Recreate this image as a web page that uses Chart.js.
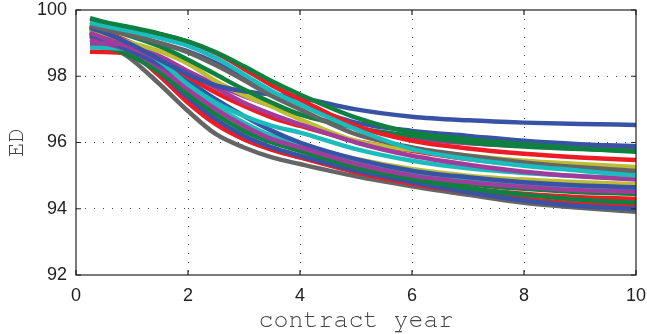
<!DOCTYPE html>
<html>
<head>
<meta charset="utf-8">
<script src="https://cdn.jsdelivr.net/npm/chart.js@4.4.0/dist/chart.umd.min.js"></script>
<style>
  html, body { margin: 0; padding: 0; background: #fff; }
  #wrap { width: 647px; height: 334px; }
</style>
</head>
<body>
<div id="wrap"><canvas id="edChart" width="647" height="334"></canvas></div>
<script>
// contract year sample points
const years = [0.25, 0.5, 1, 1.5, 2, 2.5, 3, 3.5, 4, 5, 6, 7, 8, 9, 10];
const xTicks = [0, 2, 4, 6, 8, 10];
const yTicks = [92, 94, 96, 98, 100];

// ED values, one array per curve
const greenTop   = [99.75, 99.64, 99.47, 99.28, 99.05, 98.72, 98.30, 97.85, 97.45, 96.75, 96.30, 96.10, 95.95, 95.82, 95.72];
const cyanTop    = [99.62, 99.52, 99.35, 99.15, 98.92, 98.55, 98.05, 97.55, 97.15, 96.40, 95.80, 95.50, 95.30, 95.15, 95.00];
const grayTop    = [99.52, 99.42, 99.22, 99.00, 98.72, 98.33, 97.88, 97.40, 97.00, 96.25, 95.85, 95.60, 95.40, 95.25, 95.14];
const redTop     = [99.66, 99.58, 99.44, 99.27, 99.04, 98.70, 98.22, 97.72, 97.30, 96.50, 96.05, 95.82, 95.66, 95.55, 95.47];
const blueTop    = [99.45, 99.32, 98.95, 98.50, 98.05, 97.72, 97.55, 97.45, 97.35, 97.00, 96.78, 96.67, 96.60, 96.56, 96.53];
const blueHigh   = [99.55, 99.45, 99.25, 99.00, 98.75, 98.40, 97.95, 97.50, 97.15, 96.60, 96.35, 96.20, 96.05, 95.95, 95.89];
const greenHigh  = [99.55, 99.45, 99.20, 98.90, 98.50, 98.05, 97.60, 97.20, 96.85, 96.45, 96.20, 96.00, 95.88, 95.80, 95.75];
const magentaMid = [99.00, 99.00, 98.92, 98.60, 98.15, 97.75, 97.40, 97.10, 96.85, 96.45, 96.12, 95.98, 95.90, 95.85, 95.83];
const yellowMid  = [99.40, 99.25, 99.00, 98.75, 98.38, 97.85, 97.43, 97.08, 96.70, 96.05, 95.78, 95.60, 95.45, 95.35, 95.26];
const magentaUp  = [99.30, 99.15, 98.85, 98.50, 98.10, 97.65, 97.20, 96.85, 96.55, 96.00, 95.60, 95.33, 95.12, 94.98, 94.88];
const redMid     = [99.50, 99.35, 99.00, 98.55, 97.98, 97.50, 97.10, 96.75, 96.50, 96.05, 95.75, 95.50, 95.32, 95.20, 95.14];
const cyanMid    = [99.45, 99.30, 98.95, 98.45, 97.75, 97.20, 96.80, 96.50, 96.30, 95.80, 95.45, 95.22, 95.08, 94.98, 94.92];
const blueMid    = [99.25, 99.10, 98.75, 98.35, 97.85, 97.30, 96.80, 96.35, 96.00, 95.50, 95.15, 94.95, 94.80, 94.70, 94.65];
const yellowLow  = [99.40, 99.20, 98.80, 98.20, 97.50, 96.95, 96.50, 96.15, 95.90, 95.50, 95.20, 95.00, 94.88, 94.80, 94.74];
const cyanLow    = [98.87, 98.86, 98.80, 98.40, 97.75, 97.10, 96.60, 96.20, 95.95, 95.45, 95.10, 94.90, 94.77, 94.68, 94.62];
const magentaLow = [99.10, 99.00, 98.75, 98.25, 97.60, 97.00, 96.50, 96.10, 95.85, 95.35, 95.00, 94.80, 94.66, 94.56, 94.51];
const greenFlat  = [98.95, 98.90, 98.60, 98.10, 97.45, 96.85, 96.35, 96.00, 95.75, 95.30, 94.98, 94.75, 94.60, 94.50, 94.45];
const greenLow   = [99.50, 99.30, 98.90, 98.30, 97.50, 96.90, 96.40, 96.05, 95.75, 95.25, 94.90, 94.62, 94.42, 94.27, 94.18];
const blueLow    = [99.20, 99.05, 98.70, 98.10, 97.35, 96.70, 96.20, 95.85, 95.60, 95.15, 94.80, 94.50, 94.25, 94.08, 94.00];
const redLow     = [99.35, 99.15, 98.70, 98.00, 97.20, 96.55, 96.10, 95.78, 95.55, 95.15, 94.85, 94.62, 94.45, 94.35, 94.30];
const redFlat    = [98.74, 98.73, 98.65, 98.20, 97.30, 96.60, 96.10, 95.80, 95.55, 95.10, 94.75, 94.50, 94.30, 94.15, 94.08];
const grayLow    = [99.30, 99.05, 98.50, 97.75, 96.95, 96.25, 95.85, 95.55, 95.35, 94.98, 94.68, 94.42, 94.18, 94.03, 93.91];

const BLUE = "#3953a4";
const GREEN = "#0f8040";
const RED = "#ed1c24";
const CYAN = "#1bbcbc";
const MAGENTA = "#a03c9b";
const YELLOW = "#bdbd33";
const GRAY = "#656565";

// drawing order: later entries end up on top
const curves = [
  [greenTop, GREEN], [cyanTop, CYAN], [grayTop, GRAY], [redTop, RED],
  [blueHigh, BLUE], [greenHigh, GREEN], [blueTop, BLUE],
  [magentaUp, MAGENTA], [yellowMid, YELLOW], [magentaMid, MAGENTA],
  [cyanMid, CYAN], [redMid, RED], [blueMid, BLUE], [magentaLow, MAGENTA],
  [cyanLow, CYAN], [greenFlat, GREEN], [yellowLow, YELLOW],
  [greenLow, GREEN], [blueLow, BLUE], [redLow, RED], [redFlat, RED],
  [grayLow, GRAY],
];

const datasets = curves.map(([values, color]) => ({
  data: values.map((v, i) => ({ x: years[i], y: v })),
  borderColor: color,
  backgroundColor: color,
  borderWidth: 4.5,
  pointRadius: 0,
  cubicInterpolationMode: "monotone",
  fill: false,
}));

// MATLAB style box with inward ticks
const boxPlugin = {
  id: "box",
  afterDatasetsDraw(chart) {
    const { ctx, chartArea: a, scales } = chart;
    ctx.save();
    ctx.strokeStyle = "#222";
    ctx.lineWidth = 1.2;
    ctx.strokeRect(a.left, a.top, a.right - a.left, a.bottom - a.top);
    ctx.beginPath();
    xTicks.forEach((v) => {
      const px = scales.x.getPixelForValue(v);
      ctx.moveTo(px, a.bottom); ctx.lineTo(px, a.bottom - 5);
      ctx.moveTo(px, a.top); ctx.lineTo(px, a.top + 5);
    });
    yTicks.forEach((v) => {
      const py = scales.y.getPixelForValue(v);
      ctx.moveTo(a.left, py); ctx.lineTo(a.left + 5, py);
      ctx.moveTo(a.right, py); ctx.lineTo(a.right - 5, py);
    });
    ctx.stroke();
    ctx.restore();
  },
};

const gridColor = (edges) => (c) =>
  edges.includes(c.tick.value) ? "rgba(0,0,0,0)" : "#444";

const monoSerif = "'Nimbus Mono PS', 'Nimbus Mono L', FreeMono, 'Courier New', Courier, 'Liberation Mono', monospace";

new Chart(document.getElementById("edChart"), {
  type: "line",
  data: { datasets },
  options: {
    responsive: false,
    animation: false,
    layout: { padding: { top: 10, right: 11, left: 0, bottom: 0 } },
    plugins: { legend: { display: false }, tooltip: { enabled: false } },
    scales: {
      x: {
        type: "linear",
        min: 0,
        max: 10,
        afterBuildTicks: (s) => { s.ticks = xTicks.map((v) => ({ value: v })); },
        afterFit: (s) => { s.height = 59; s.paddingLeft = 0; s.paddingRight = 0; },
        grid: { color: gridColor([0, 10]), lineWidth: 1, drawTicks: false },
        border: { display: false, dash: [1, 8] },
        ticks: { color: "#222", padding: 10, font: { family: "Liberation Sans", size: 18 } },
        title: {
          display: true,
          text: "contract year",
          color: "#444",
          padding: { top: 0, bottom: 1 },
          font: { family: monoSerif, size: 25, lineHeight: 1.1 },
        },
      },
      y: {
        type: "linear",
        min: 92,
        max: 100,
        afterBuildTicks: (s) => { s.ticks = yTicks.map((v) => ({ value: v })); },
        afterFit: (s) => { s.width = 76; s.paddingTop = 0; s.paddingBottom = 0; },
        grid: { color: gridColor([92, 100]), lineWidth: 1, drawTicks: false },
        border: { display: false, dash: [1, 8] },
        ticks: { color: "#222", padding: 9, font: { family: "Liberation Sans", size: 18 } },
        title: {
          display: true,
          text: "ED",
          color: "#444",
          padding: { top: 1, bottom: 0 },
          font: { family: monoSerif, size: 24, lineHeight: 1.2 },
        },
      },
    },
  },
  plugins: [boxPlugin],
});
</script>
</body>
</html>
